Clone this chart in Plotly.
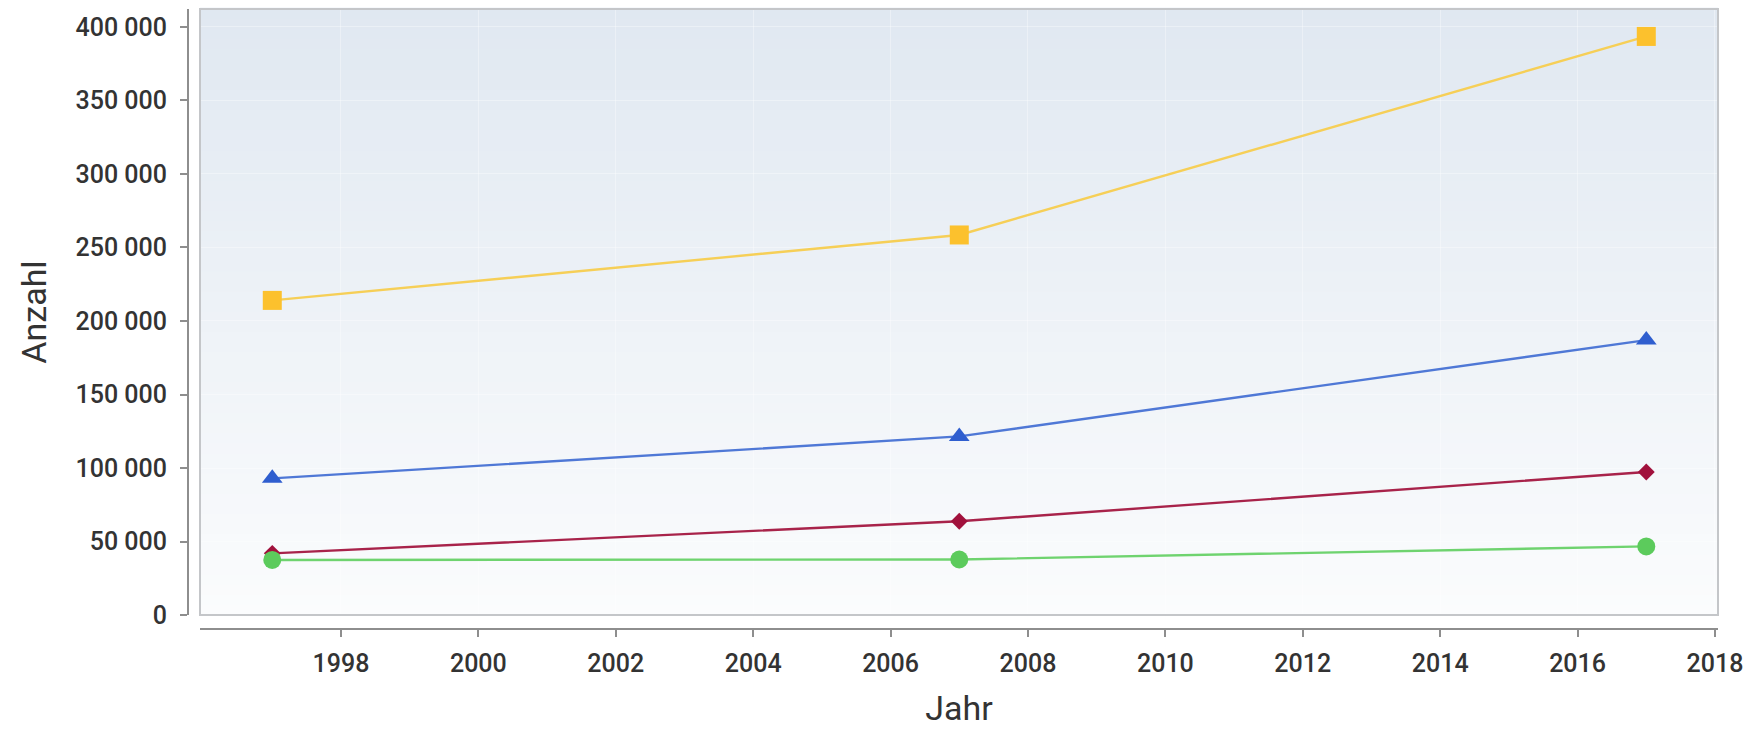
import plotly.graph_objects as go

# ---- data ----
years = [1997, 2007, 2017]
series_gelb = [214000, 258500, 393500]
series_blau = [93000, 121500, 187000]
series_rot = [42000, 63800, 97300]
series_gruen = [37500, 37800, 46700]
x_ticks = [1998, 2000, 2002, 2004, 2006, 2008, 2010, 2012, 2014, 2016, 2018]
y_ticks = [0, 50000, 100000, 150000, 200000, 250000, 300000, 350000, 400000]

W, H = 1752, 729
FONT = "Roboto"

fig = go.Figure()

def add(y, line_color, marker_color, symbol, size):
    fig.add_trace(go.Scatter(
        x=years, y=y, mode="lines+markers",
        line=dict(color=line_color, width=2.4),
        marker=dict(color=marker_color, symbol=symbol, size=size,
                    line=dict(width=0)),
        showlegend=False, hoverinfo="x+y",
    ))

add(series_gelb, "#F6CF57", "#FCC12D", "square", 19)
add(series_blau, "#4F78D6", "#2F5ECF", "triangle-up", 18)
add(series_rot, "#A8234A", "#A1113C", "diamond", 13)
add(series_gruen, "#6FD36F", "#5CCB5C", "circle", 18)

# background gradient (plot area), top bluish -> bottom near white
shapes = []
N = 60
top = (224, 232, 241)
bot = (251, 252, 253)
for i in range(N):
    t = (i + 0.5) / N
    c = tuple(round(bot[k] + (top[k] - bot[k]) * t) for k in range(3))
    shapes.append(dict(type="rect", xref="x domain", yref="y domain",
                       x0=0, x1=1, y0=i / N, y1=(i + 1) / N + 0.002,
                       fillcolor="rgb(%d,%d,%d)" % c, line=dict(width=0),
                       layer="below"))
# plot frame
shapes.append(dict(type="rect", xref="x domain", yref="y domain",
                   x0=0, x1=1, y0=0, y1=1,
                   line=dict(color="#C4C6C9", width=2),
                   fillcolor="rgba(0,0,0,0)", layer="above"))

ml, mr, mt, mb = 188, 34, 9, 96
pw = W - ml - mr
ph = H - mt - mb

tickfont = dict(family=FONT, size=25, color="#333333", weight=500)

fig.update_layout(
    width=W, height=H,
    margin=dict(l=ml, r=mr, t=mt, b=mb, pad=0),
    paper_bgcolor="white", plot_bgcolor="white",
    separators=", ",
    shapes=shapes,
    font=dict(family=FONT, color="#333333"),
    xaxis=dict(
        domain=[12 / pw, 1], anchor="free", position=0,
        range=[1995.948, 2018.044],
        tickvals=x_ticks, tickformat="d",
        showline=True, linecolor="#8E8E8E", linewidth=2,
        ticks="outside", ticklen=7, tickwidth=2, tickcolor="#8E8E8E",
        showgrid=True, gridcolor="rgba(255,255,255,0.35)", gridwidth=1,
        zeroline=False,
        tickfont=tickfont,
        ticklabelstandoff=5,
        title=dict(text="Jahr", font=dict(family=FONT, size=34, color="#333333"),
                   standoff=18),
    ),
    yaxis=dict(
        domain=[14 / ph, 1], anchor="free", position=0,
        range=[0, 412160],
        tickvals=y_ticks, tickformat=",d",
        showline=True, linecolor="#8E8E8E", linewidth=2,
        ticks="outside", ticklen=7, tickwidth=2, tickcolor="#8E8E8E",
        showgrid=True, gridcolor="rgba(255,255,255,0.35)", gridwidth=1,
        zeroline=False,
        tickfont=tickfont,
        ticklabelstandoff=8,
        title=dict(text="Anzahl", font=dict(family=FONT, size=34, color="#333333"),
                   standoff=18),
    ),
)

fig.write_html("out.html")
